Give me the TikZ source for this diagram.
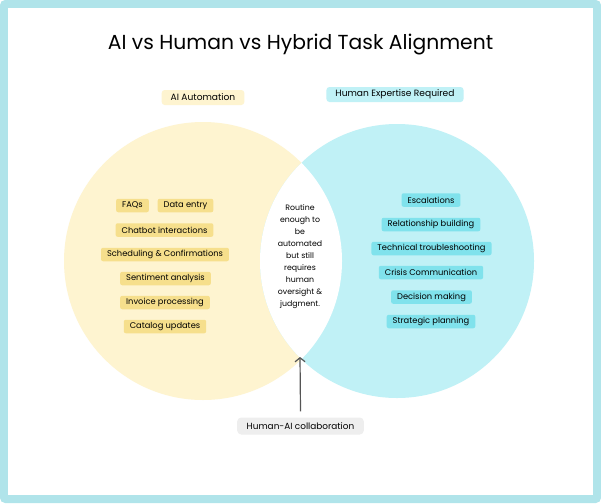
\documentclass[tikz,border=0pt]{standalone}
\usepackage{fontspec}
\setmainfont{Poppins}
\usetikzlibrary{arrows.meta, positioning}

\definecolor{frameblue}{HTML}{B0E4EA}
\definecolor{aifill}{HTML}{FEF4D0}
\definecolor{aichip}{HTML}{F6DF8C}
\definecolor{humfill}{HTML}{C0F1F6}
\definecolor{humchip}{HTML}{80E2EC}
\definecolor{collabfill}{HTML}{EEEEEE}
\definecolor{arrowgray}{HTML}{555555}

\tikzset{
  aitask/.style={fill=aichip, rounded corners=2pt, inner xsep=6pt, inner ysep=0pt,
    minimum height=13.5pt, font=\fontsize{8.3}{9}\selectfont, text=black},
  humtask/.style={fill=humchip, rounded corners=2pt, inner xsep=6pt, inner ysep=0pt,
    minimum height=13.5pt, font=\fontsize{8.3}{9}\selectfont, text=black},
  grouplabel/.style={rounded corners=3pt, inner xsep=9pt, inner ysep=0pt,
    minimum height=15pt, font=\fontsize{9.1}{10}\selectfont, text=black}
}

\begin{document}
\begin{tikzpicture}[x=1pt, y=-1pt]
% Marco, dos circulos y la zona comun en blanco
\useasboundingbox (0,0) rectangle (601,503);
\fill[frameblue, rounded corners=5pt] (0,0) rectangle (601,503);
\fill[white] (8,8) rectangle (593,495);

\coordinate (L) at (203,261);
\coordinate (R) at (397,261);
\coordinate (lensbottom) at (300,357);

\fill[aifill] (L) circle[radius=139pt];
\fill[humfill] (R) circle[radius=137pt];
\begin{scope}
  \clip (L) circle[radius=139pt];
  \fill[white] (R) circle[radius=137pt];
\end{scope}

\node (title) at (300.5,45) {\fontsize{20.3}{24}\selectfont AI vs Human vs Hybrid Task Alignment};

\node[grouplabel, fill=aifill] (ailabel) at (203,97.5) {AI Automation};
\node[grouplabel, fill=humfill] (humlabel) at (395,94.5) {Human Expertise Required};

% tareas de la IA
\node[aitask] (faq) at (132.5,205.5) {FAQs};
\node[aitask] (dataentry) at (185.5,205.5) {Data entry};
\node[aitask] (chatbot) at (164.5,230) {Chatbot interactions};
\node[aitask] (scheduling) at (165,254.5) {Scheduling \& Confirmations};
\node[aitask] (sentiment) at (165.5,278.5) {Sentiment analysis};
\node[aitask] (invoice) at (165,302.5) {Invoice processing};
\node[aitask] (catalog) at (165,326.5) {Catalog updates};

% tareas humanas
\node[humtask] (escalation) at (431,200) {Escalations};
\node[humtask] (relation) at (431,224.5) {Relationship building};
\node[humtask] (techtrbl) at (431.5,248.5) {Technical troubleshooting};
\node[humtask] (crisis) at (431,272.5) {Crisis Communication};
\node[humtask] (decision) at (431.5,297) {Decision making};
\node[humtask] (strategic) at (431,321.5) {Strategic planning};

\node[align=center, font=\fontsize{7.8}{12}\selectfont] (hybrid) at (300,257)
  {Routine\\enough to\\be\\automated\\but still\\requires\\human\\oversight \&\\judgment.};

\node[grouplabel, fill=collabfill, rounded corners=4pt, inner xsep=9.5pt, minimum height=17pt, font=\fontsize{8.9}{10}\selectfont] (collab) at (300.5,426) {Human-AI collaboration};
\draw[arrowgray, line width=1.2pt, -{Straight Barb[length=4pt, width=10pt]}] ([yshift=6pt]collab.north) -- (lensbottom);
\end{tikzpicture}
\end{document}
